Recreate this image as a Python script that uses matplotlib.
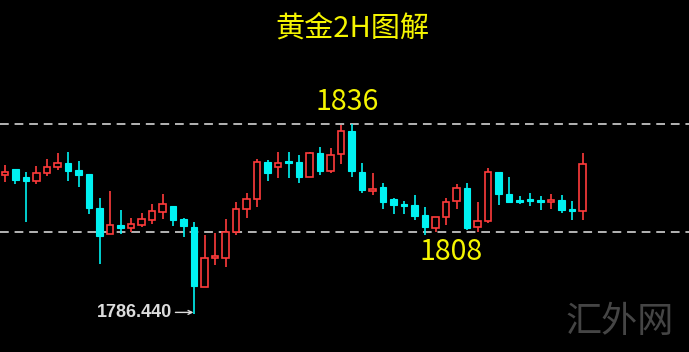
import matplotlib
matplotlib.use('Agg')
import matplotlib.pyplot as plt
from matplotlib.patches import Rectangle

# 2H gold candles (open, high, low, close)
opens  = [1822.8, 1824.3, 1822.2, 1821.2, 1823.3, 1824.8, 1825.9, 1824.1, 1823.1, 1814.1,
          1807.4, 1809.8, 1809.1, 1809.8, 1811.1, 1813.1, 1814.7, 1811.2, 1809.3, 1793.6,
          1801.1, 1801.1, 1808.0, 1813.9, 1816.5, 1826.3, 1824.8, 1826.5, 1826.3, 1822.4,
          1828.6, 1823.9, 1828.3, 1834.4, 1823.7, 1818.6, 1819.6, 1816.5, 1815.2, 1815.0,
          1812.4, 1808.9, 1811.9, 1816.0, 1819.5, 1809.2, 1810.8, 1823.7, 1817.9, 1816.3,
          1816.6, 1816.3, 1815.8, 1816.3, 1814.0, 1813.5]
highs  = [1825.4, 1824.3, 1823.7, 1825.2, 1826.9, 1828.5, 1828.9, 1826.5, 1823.1, 1816.7,
          1818.7, 1813.7, 1811.5, 1812.8, 1815.2, 1817.9, 1814.7, 1811.5, 1810.6, 1807.1,
          1807.6, 1811.2, 1815.8, 1818.2, 1826.9, 1826.7, 1828.9, 1828.9, 1828.0, 1828.9,
          1830.2, 1829.8, 1835.9, 1836.0, 1825.9, 1823.4, 1820.8, 1816.7, 1816.1, 1817.6,
          1814.4, 1811.9, 1816.7, 1820.4, 1820.6, 1815.8, 1824.6, 1823.7, 1822.4, 1817.3,
          1818.0, 1817.3, 1817.9, 1817.6, 1816.1, 1828.6]
lows   = [1821.1, 1820.5, 1810.6, 1820.5, 1822.6, 1824.1, 1821.2, 1819.6, 1812.6, 1799.6,
          1807.4, 1807.4, 1808.0, 1809.3, 1810.0, 1811.3, 1809.5, 1806.7, 1786.44, 1793.6,
          1799.3, 1798.9, 1807.1, 1811.5, 1814.4, 1821.3, 1822.0, 1822.0, 1820.8, 1822.2,
          1822.8, 1823.3, 1825.7, 1822.4, 1818.2, 1817.6, 1813.9, 1812.6, 1812.6, 1811.1,
          1807.1, 1807.8, 1809.8, 1813.9, 1808.5, 1808.0, 1810.4, 1815.0, 1815.4, 1815.2,
          1814.7, 1813.7, 1813.9, 1813.0, 1811.1, 1811.1]
closes = [1823.7, 1821.5, 1821.2, 1823.4, 1825.0, 1825.9, 1823.9, 1822.8, 1814.1, 1806.9,
          1809.8, 1809.1, 1810.0, 1811.3, 1813.5, 1815.2, 1811.1, 1809.5, 1793.8, 1801.1,
          1801.7, 1808.0, 1813.9, 1816.5, 1826.3, 1823.3, 1826.0, 1826.0, 1822.4, 1828.6,
          1823.9, 1828.0, 1834.4, 1823.9, 1818.9, 1819.1, 1815.8, 1815.0, 1814.7, 1812.1,
          1809.2, 1811.9, 1815.8, 1819.5, 1808.9, 1810.8, 1823.7, 1817.9, 1815.7, 1815.8,
          1816.1, 1815.8, 1816.3, 1813.7, 1813.5, 1825.7]

LEVELS = [1836, 1808]
LOW_LABEL = '1786.440'
TITLE = '黄金2H图解'
WATERMARK = '汇外网'

UP_COL   = '#ff3b3b'
DOWN_COL = '#00f2f2'
YELLOW   = '#f5f500'

fig = plt.figure(figsize=(6.89, 3.52), dpi=100, facecolor='black')
ax = fig.add_axes([0, 0, 1, 1])
ax.set_facecolor('black')
ax.set_axis_off()
ax.set_xlim(-0.476, 65.14)
ax.set_ylim(1776.6, 1868.5)

w = 0.62
for i, (o, h, l, c) in enumerate(zip(opens, highs, lows, closes)):
    up = c >= o
    col = UP_COL if up else DOWN_COL
    lo_b, hi_b = min(o, c), max(o, c)
    ax.plot([i, i], [hi_b, h], color=col, lw=1.2, zorder=2, solid_capstyle='butt')
    ax.plot([i, i], [l, lo_b], color=col, lw=1.2, zorder=2, solid_capstyle='butt')
    body_h = max(hi_b - lo_b, 0.35)
    if up:
        ax.add_patch(Rectangle((i - w / 2, lo_b), w, body_h, facecolor='black',
                               edgecolor=col, lw=1.2, zorder=3))
    else:
        ax.add_patch(Rectangle((i - w / 2, lo_b), w, body_h, facecolor=col,
                               edgecolor=col, lw=0.8, zorder=3))

# support / resistance lines
for lv in LEVELS:
    ax.axhline(lv, color='#b4b4b4', lw=1.4, dashes=(4.5, 3), zorder=1)

ax.text(32.6, LEVELS[0] + 2.0, str(LEVELS[0]), color=YELLOW, fontsize=20.5,
        family=['Noto Sans CJK SC', 'DejaVu Sans'], ha='center', va='bottom')
ax.text(42.5, LEVELS[1] - 1.4, str(LEVELS[1]), color=YELLOW, fontsize=20.5,
        family=['Noto Sans CJK SC', 'DejaVu Sans'], ha='center', va='top')

# low marker: label plus a short arrow into the wick
i_low = lows.index(min(lows))
y_low = min(lows) + 0.5
ax.annotate(LOW_LABEL, xy=(i_low, y_low), xytext=(-16, 0), textcoords='offset points',
            color='#dcdcdc', fontsize=13, fontweight='bold', family='Liberation Sans',
            ha='right', va='center')
ax.annotate('', xy=(i_low - 0.05, y_low), xytext=(-13, 0), textcoords='offset points',
            arrowprops=dict(arrowstyle='->', color='#dcdcdc', lw=1.0,
                            shrinkA=0, shrinkB=0, mutation_scale=7))

fig.text(0.511, 0.918, TITLE, color=YELLOW, fontsize=21,
         family=['Noto Sans CJK SC', 'DejaVu Sans'], ha='center', va='center')
fig.text(0.9, 0.085, WATERMARK, color='#454545', fontsize=26, fontweight='light',
         family=['Noto Sans CJK SC', 'DejaVu Sans'], ha='center', va='center')

fig.savefig('out.png', dpi=100, facecolor='black')
